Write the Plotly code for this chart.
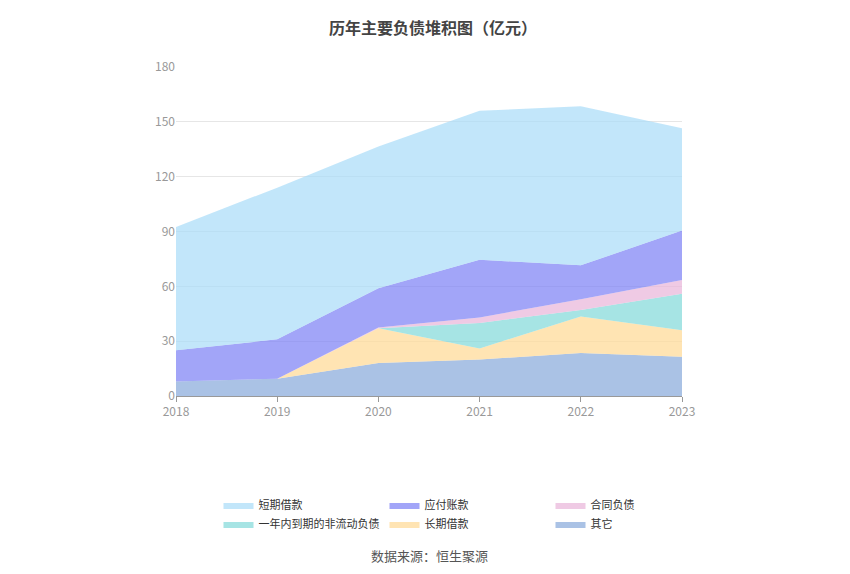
import plotly.graph_objects as go

years = ["2018", "2019", "2020", "2021", "2022", "2023"]
# stacked from bottom up
other = [8, 9.5, 18, 20, 23.5, 21.5]
long_loan = [0, 0, 19, 6, 20, 14.5]
current_noncurrent = [0, 0, 0, 14, 3.5, 20]
contract = [0, 0, 0.5, 3, 6, 7.5]
payables = [17, 21.5, 21.5, 31.5, 18.5, 27]
short_loan = [67.5, 83, 77.5, 81.5, 87, 56]

series = [
    ("其它", other, "rgba(142,174,220,0.75)", "#8eaedc"),
    ("长期借款", long_loan, "rgba(255,219,154,0.75)", "#ffdb9a"),
    ("一年内到期的非流动负债", current_noncurrent, "rgba(128,216,216,0.7)", "#80d8d8"),
    ("合同负债", contract, "rgba(232,180,216,0.7)", "#e8b4d8"),
    ("应付账款", payables, "rgba(123,127,245,0.7)", "#7b7ff5"),
    ("短期借款", short_loan, "rgba(168,220,248,0.7)", "#a8dcf8"),
]

fig = go.Figure()
for name, vals, fill, col in series:
    fig.add_trace(go.Scatter(
        x=years, y=vals, name=name, stackgroup="one", mode="lines",
        line=dict(width=0, color=col), fillcolor=fill,
    ))

fig.update_layout(
    width=850, height=574,
    margin=dict(l=168, r=176, t=59, b=186, autoexpand=False),
    plot_bgcolor="white", paper_bgcolor="white",
    font=dict(family="Noto Sans CJK SC", size=12, color="#666"),
    title=dict(text="<b>历年主要负债堆积图（亿元）</b>", x=0.5, y=0.975,
               font=dict(size=16, color="#444", family="Noto Sans CJK SC")),
    xaxis=dict(range=[0, 5], showgrid=False, showline=True, linecolor="#999",
               ticks="outside", tickcolor="#999", tickfont=dict(color="#999"),
               automargin=False),
    yaxis=dict(range=[0, 180], dtick=30, gridcolor="#e6e6e6", zeroline=False,
               tickfont=dict(color="#999"), automargin=False),
    legend=dict(orientation="h", traceorder="reversed", x=0.5, xanchor="center",
                y=-0.36, yanchor="middle", font=dict(size=11, color="#333"),
                itemwidth=30, entrywidthmode="pixels"),
    annotations=[dict(text="数据来源：恒生聚源", x=0.5, xref="paper", y=-0.52,
                      yref="paper", showarrow=False, font=dict(size=13, color="#555"))],
)

fig.write_html("out.html")
